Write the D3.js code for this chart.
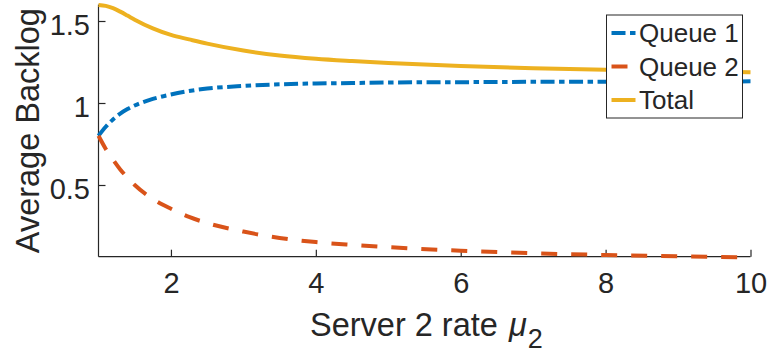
<!DOCTYPE html>
<html>
<head>
<meta charset="utf-8">
<script src="https://cdn.jsdelivr.net/npm/d3@7"></script>
<style>
  body { margin: 0; background: #fff; }
  svg text { font-family: "Liberation Sans", Arial, Helvetica, sans-serif; fill: #262626; }
</style>
</head>
<body>
<svg id="chart" width="768" height="354"></svg>
<script>
// Server 2 service rate (x) and average backlog of each queue
const mu2    = [1, 1.1, 1.2, 1.3, 1.4, 1.5, 1.75, 2, 2.25, 2.5, 3, 3.5, 4, 4.5, 5, 6, 7, 8, 9, 10];
const queue1 = [0.80, 0.855, 0.90, 0.935, 0.963, 0.985, 1.025, 1.052, 1.073, 1.088, 1.104, 1.114, 1.119, 1.122, 1.125, 1.127, 1.129, 1.130, 1.131, 1.132];
const queue2 = [0.80, 0.72, 0.655, 0.595, 0.545, 0.50, 0.415, 0.355, 0.305, 0.268, 0.216, 0.177, 0.152, 0.135, 0.121, 0.099, 0.084, 0.073, 0.065, 0.058];
const total  = [1.598, 1.592, 1.578, 1.557, 1.533, 1.508, 1.455, 1.415, 1.388, 1.362, 1.320, 1.290, 1.270, 1.256, 1.244, 1.226, 1.212, 1.202, 1.194, 1.188];

const xTicks = [2, 4, 6, 8, 10];
const yTicks = [0.5, 1, 1.5];
const seriesNames = ["Queue 1", "Queue 2", "Total"];

const svg = d3.select("#chart");

const plot = { left: 98.5, right: 750.5, top: 4.6, bottom: 256.7 };

const x = d3.scaleLinear().domain([1, 10]).range([plot.left, plot.right]);
const y = d3.scaleLinear().domain([0.0628, 1.6]).range([plot.bottom, plot.top]);

const series = [
  { name: seriesNames[0], values: queue1, color: "#0072BD", dash: "14,4.5,5.5,4.5" },
  { name: seriesNames[1], values: queue2, color: "#D95319", dash: "16,14" },
  { name: seriesNames[2], values: total,  color: "#EDB120", dash: null }
];

// Axes (ticks point inward)
const xAxis = d3.axisBottom(x).tickValues(xTicks).tickFormat(d3.format("d"))
  .tickSizeInner(-7).tickSizeOuter(0).tickPadding(16);
const yAxis = d3.axisLeft(y).tickValues(yTicks).tickFormat(d => d3.format("")(d))
  .tickSizeInner(-7).tickSizeOuter(0).tickPadding(8.5);

const gx = svg.append("g").attr("transform", `translate(0,${plot.bottom})`).call(xAxis);
const gy = svg.append("g").attr("transform", `translate(${plot.left},0)`).call(yAxis);

[gx, gy].forEach(g => {
  g.select(".domain").attr("stroke", "#262626").attr("stroke-width", 1.2);
  g.selectAll(".tick line").attr("stroke", "#262626").attr("stroke-width", 1.2);
  g.selectAll(".tick text").attr("font-size", 29).attr("fill", "#262626")
    .style("font-family", "'Liberation Sans', Arial, sans-serif");
});
gy.select(".domain").attr("d", `M0,${plot.top}V${plot.bottom}`);
gx.select(".domain").attr("d", `M${plot.left},0H${plot.right}`);
gx.selectAll(".tick text").attr("dy", "0.71em");
gy.selectAll(".tick text").attr("dy", "0.45em");

// Curves
const line = d3.line().curve(d3.curveMonotoneX);
series.forEach(s => {
  svg.append("path")
    .attr("d", line(mu2.map((m, i) => [x(m), y(s.values[i])])))
    .attr("fill", "none")
    .attr("stroke", s.color)
    .attr("stroke-width", 4)
    .attr("stroke-dasharray", s.dash)
    .attr("stroke-linejoin", "round");
});

// Axis titles
const xt = svg.append("text")
  .attr("x", 310).attr("y", 336)
  .attr("font-size", 32.5)
  .text("Server 2 rate ");
xt.append("tspan").attr("font-style", "italic").attr("dx", 2).text("μ");
xt.append("tspan").attr("font-size", 27).attr("dx", 1).attr("dy", 12).text("2");

svg.append("text")
  .attr("transform", `translate(39,${(plot.top + plot.bottom) / 2}) rotate(-90)`)
  .attr("text-anchor", "middle")
  .attr("font-size", 32.5)
  .text("Average Backlog");

// Legend
const leg = svg.append("g").attr("transform", "translate(606.5,15)");
leg.append("rect").attr("width", 136).attr("height", 103)
  .attr("fill", "#fff").attr("stroke", "#262626").attr("stroke-width", 1);
series.forEach((s, i) => {
  const cy = 18 + i * 33.5;
  leg.append("line").attr("x1", 5).attr("x2", 29).attr("y1", cy).attr("y2", cy)
    .attr("stroke", s.color).attr("stroke-width", 4).attr("stroke-dasharray", s.dash);
  leg.append("text").attr("x", 32.5).attr("y", cy).attr("dy", "0.36em")
    .attr("font-size", 26).text(s.name);
});
</script>
</body>
</html>
